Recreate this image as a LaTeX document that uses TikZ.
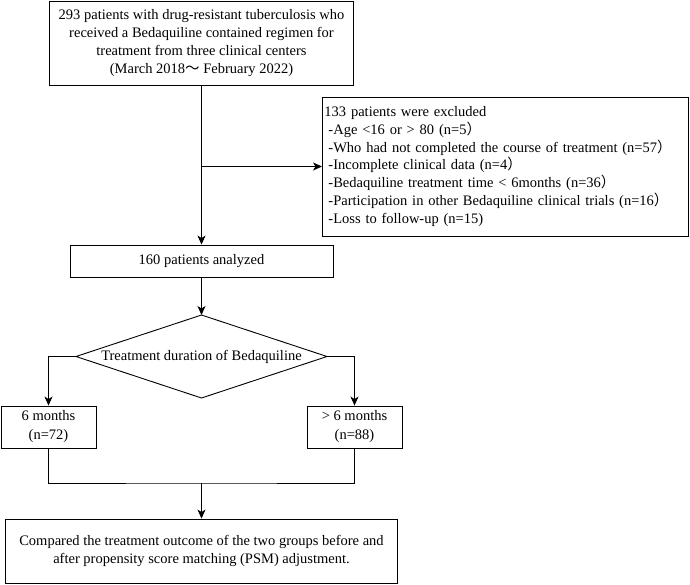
\documentclass[tikz,border=0pt]{standalone}
\usepackage{fontspec}
\setmainfont{Liberation Serif}
\newfontfamily\cjkf{Noto Sans CJK SC}
\usetikzlibrary{arrows.meta}
\newcommand{\fp}{{\cjkf ）}}
\begin{document}
\begin{tikzpicture}[x=1pt,y=-1pt,
  box/.style={draw, line width=0.9pt, inner sep=0pt, align=center, font=\fontsize{14.5}{18.3}\selectfont},
  arr/.style={line width=0.9pt, -{Stealth[length=9pt,width=8pt,inset=2.5pt]}},
  ln/.style={line width=0.9pt}]
\useasboundingbox (0,0) rectangle (690,584);
\node[box, minimum width=304, minimum height=84] (top) at (201.5,43)
  {293 patients with drug-resistant tuberculosis who\\received a Bedaquiline contained regimen for\\treatment from three clinical centers\\(March 2018{\cjkf ～} February 2022)};
\node[box, align=left, text width=362, minimum height=139, inner xsep=2pt, anchor=west,
  font=\fontsize{14.5}{17.9}\selectfont] (excl) at (322,166.5)
  {133 patients were excluded\\
  \hspace*{4pt}-Age <16 or > 80 (n=5\fp\\
  \hspace*{4pt}-Who had not completed the course of treatment (n=57\fp\\
  \hspace*{4pt}-Incomplete clinical data (n=4\fp\\
  \hspace*{4pt}-Bedaquiline treatment time < 6months (n=36\fp\\
  \hspace*{4pt}-Participation in other Bedaquiline clinical trials (n=16\fp\\
  \hspace*{4pt}-Loss to follow-up (n=15)};
\node[box, minimum width=263, minimum height=32] (n160) at (201.5,261) {160 patients analyzed};
\coordinate (dT) at (201.5,315);
\coordinate (dL) at (76,356.5);
\coordinate (dB) at (201.5,398);
\coordinate (dR) at (327,356.5);
\draw[ln, line join=miter] (dT) -- (dR) -- (dB) -- (dL) -- cycle;
\node[font=\fontsize{14.5}{18.3}\selectfont, inner sep=0pt] (dtext) at (201.5,356.5) {Treatment duration of Bedaquiline};
\node[box, minimum width=95, minimum height=42, font=\fontsize{14.5}{19}\selectfont] (six) at (48.5,427) {6 months\\(n=72)};
\node[box, minimum width=95, minimum height=42, font=\fontsize{14.5}{19}\selectfont] (more) at (354.5,427) {> 6 months\\(n=88)};
\node[box, minimum width=392, minimum height=64] (fin) at (201.5,551)
  {Compared the treatment outcome of the two groups before and\\after propensity score matching (PSM) adjustment.};
\coordinate (br) at (201.5,166.5);
\coordinate (mj) at (201.5,483);
\draw[arr] (top.south) -- (n160.north);
\draw[arr] (br) -- (excl.west);
\draw[arr] (n160.south) -- (dT);
\draw[arr] (dL) -| (six.north);
\draw[arr] (dR) -| (more.north);
\draw[ln] (six.south) |- (mj) -| (more.south);
\draw[arr] (mj) -- (fin.north);
\end{tikzpicture}
\end{document}
